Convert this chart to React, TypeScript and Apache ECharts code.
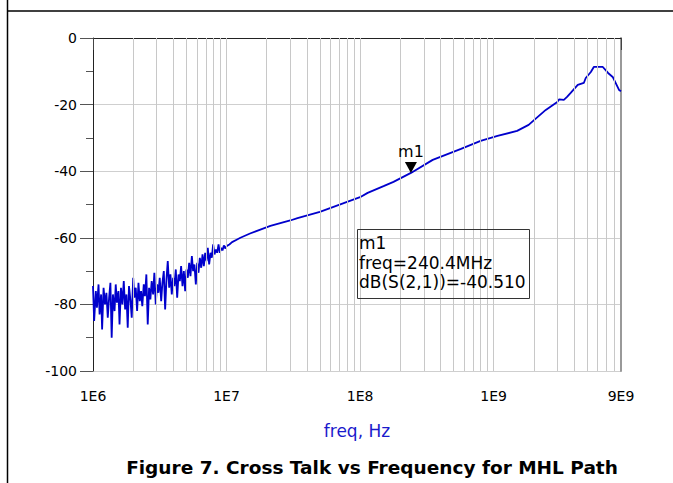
import React, { useEffect, useRef } from "react";
import * as echarts from "echarts";

// Noisy low-frequency part of the sweep (frequency in MHz, value in dB)
const NOISE_FREQ_MHZ = [
  1.0, 1.02, 1.05, 1.07, 1.1, 1.12, 1.15, 1.17, 1.2, 1.23, 1.26, 1.29, 1.32, 1.35, 1.38, 1.41, 1.45, 1.48, 1.51, 1.55,
  1.58, 1.62, 1.66, 1.7, 1.74, 1.78, 1.82, 1.86, 1.91, 1.95, 2.0, 2.04, 2.09, 2.14, 2.19, 2.24, 2.29, 2.34, 2.4, 2.45,
  2.51, 2.57, 2.63, 2.69, 2.75, 2.82, 2.88, 2.95, 3.02, 3.09, 3.16, 3.24, 3.31, 3.39, 3.47, 3.55, 3.63, 3.72, 3.8, 3.89,
  3.98, 4.07, 4.17, 4.27, 4.37, 4.47, 4.57, 4.68, 4.79, 4.9, 5.01, 5.13, 5.25, 5.37, 5.5, 5.62, 5.75, 5.89, 6.03, 6.17,
  6.31, 6.46, 6.61, 6.76, 6.92, 7.08, 7.24, 7.41, 7.59, 7.76, 7.94, 8.13, 8.32, 8.51, 8.71, 8.91, 9.12, 9.33, 9.55, 9.77,
  10.0,
];
const NOISE_DB = [
  -74.5, -85, -76, -81, -74, -83, -77, -87.5, -75, -80, -76.5, -84, -78, -73.5, -90, -77, -82, -74, -79.5, -76,
  -86, -75, -80, -73, -81.5, -77, -87, -74.5, -79, -84, -72, -78, -75, -82, -73.5, -79, -76, -80.5, -74, -77.5,
  -71, -86, -75, -78.5, -73, -77, -70.5, -80, -74, -76.5, -72, -79, -73.5, -70, -81.5, -72.5, -67, -75, -71, -77,
  -72, -74.5, -69.5, -78, -71, -73, -68.5, -74.5, -70, -76, -69.5, -72, -67.5, -71.5, -65.5, -70, -68, -74, -67.5, -70.5,
  -66, -69, -65, -68.5, -64.5, -67, -63, -68, -64.5, -66, -62, -65, -63.5, -64.5, -62, -64.5, -63, -63.8, -62.3, -63.2,
  -62.5,
];

// Smooth part of the sweep (frequency in MHz, value in dB)
const SMOOTH_FREQ_MHZ = [
  10.5, 11, 12, 12.7, 15, 21.3, 30, 34, 50, 80, 100, 114, 150, 178, 240.4, 350, 570, 800, 1070, 1500,
  1830, 2100, 2460, 3000, 3100, 3360, 3550, 3780, 4270, 4740, 4900, 5350, 5630, 6580, 7200, 7800, 8700, 9000,
];
const SMOOTH_DB = [
  -62.0, -61.3, -60.5, -60.0, -58.7, -56.4, -54.8, -54.1, -52.2, -49.2, -47.8, -46.5, -44.5, -43.2, -40.51, -36.6, -33.3, -30.9, -29.4, -27.9,
  -26.1, -24.0, -21.6, -19.2, -18.4, -18.6, -17.7, -16.5, -14.1, -13.5, -12.0, -10.2, -8.7, -8.7, -10.5, -11.7, -15.6, -16.0,
];

const X_MIN_HZ = 1e6;
const X_MAX_HZ = 9e9;
const Y_MIN = -100;
const Y_MAX = 0;
const Y_INTERVAL = 20;

const GRID_MULTIPLIERS = [1, 2, 3, 4, 5, 6, 7, 8, 9];
const GRID_DECADES = [6, 7, 8, 9];

const MARKER_FREQ_HZ = 240.4e6;
const MARKER_DB = -40.51;
const MARKER_NAME = "m1";
const MARKER_BOX_LINES = ["m1", "freq=240.4MHz", "dB(S(2,1))=-40.510"];

const X_AXIS_NAME = "freq, Hz";
const TITLE = "Figure 7. Cross Talk vs Frequency for MHL Path";

const FONT = "DejaVu Sans";

function formatFreq(v: number): string {
  const e = Math.floor(Math.log10(v) + 1e-9);
  const m = Math.round(v / Math.pow(10, e));
  return `${m}E${e}`;
}

export default function App() {
  const ref = useRef<HTMLDivElement>(null);

  useEffect(() => {
    document.body.style.margin = "0";
    document.body.style.overflow = "hidden";
    if (!ref.current) return;
    const chart = echarts.init(ref.current, undefined, { renderer: "svg" });

    const data: [number, number][] = [];
    NOISE_FREQ_MHZ.forEach((f, i) => data.push([f * 1e6, NOISE_DB[i]]));
    SMOOTH_FREQ_MHZ.forEach((f, i) => data.push([f * 1e6, SMOOTH_DB[i]]));

    const vLines: { xAxis: number }[] = [];
    GRID_DECADES.forEach((d) =>
      GRID_MULTIPLIERS.forEach((m) => {
        const v = m * Math.pow(10, d);
        if (v > X_MIN_HZ && v < X_MAX_HZ) vLines.push({ xAxis: v });
      })
    );

    const option: any = {
      animation: false,
      backgroundColor: "#ffffff",
      grid: { left: 93, right: 52, top: 38, bottom: 112, containLabel: false },
      xAxis: [
        {
          type: "log",
          logBase: 10,
          min: X_MIN_HZ,
          max: X_MAX_HZ,
          name: X_AXIS_NAME,
          nameLocation: "middle",
          nameGap: 51,
          nameTextStyle: { color: "#1a1acc", fontSize: 17, fontFamily: FONT },
          axisLine: { show: true, lineStyle: { color: "#222", width: 1 } },
          axisTick: { show: true, length: 12, lineStyle: { color: "#444", width: 1 } },
          axisLabel: {
            show: true,
            margin: 18,
            color: "#000",
            fontSize: 14,
            fontFamily: FONT,
            formatter: (v: number) => formatFreq(v),
            showMaxLabel: true,
            showMinLabel: true,
          },
          splitLine: { show: false },
          minorTick: { show: false },
        },
        {
          type: "log",
          logBase: 10,
          min: X_MIN_HZ,
          max: X_MAX_HZ,
          position: "top",
          axisLine: { show: true, lineStyle: { color: "#222", width: 1 } },
          axisTick: { show: false },
          axisLabel: { show: false },
          splitLine: { show: false },
        },
      ],
      yAxis: [
        {
          type: "value",
          min: Y_MIN,
          max: Y_MAX,
          interval: Y_INTERVAL,
          axisLine: { show: true, lineStyle: { color: "#222", width: 1 } },
          axisTick: { show: true, length: 13, lineStyle: { color: "#555", width: 1 } },
          minorTick: { show: true, splitNumber: 2, length: 7, lineStyle: { color: "#555", width: 1 } },
          axisLabel: { margin: 16, color: "#000", fontSize: 14, fontFamily: FONT },
          splitLine: { show: true, lineStyle: { color: "#cfcfcf", width: 1 } },
        },
        {
          type: "value",
          min: Y_MIN,
          max: Y_MAX,
          position: "right",
          axisLine: { show: true, lineStyle: { color: "#999", width: 2 } },
          axisTick: { show: false },
          axisLabel: { show: false },
          splitLine: { show: false },
        },
      ],
      series: [
        {
          type: "line",
          xAxisIndex: 0,
          yAxisIndex: 0,
          data: [],
          z: 1,
          silent: true,
          markLine: {
            silent: true,
            symbol: ["none", "none"],
            label: { show: false },
            lineStyle: { color: "#c8c8c8", width: 1, type: "solid" },
            data: vLines,
          },
        },
        {
          type: "line",
          xAxisIndex: 0,
          yAxisIndex: 0,
          data,
          z: 3,
          showSymbol: false,
          symbol: "none",
          lineStyle: { color: "#0000cc", width: 1.8 },
          markPoint: {
            silent: true,
            data: [
              {
                coord: [MARKER_FREQ_HZ, MARKER_DB],
                symbol: "path://M0,0L12,0L6,11Z",
                symbolSize: [12, 11],
                symbolOffset: [0, -5.5],
                itemStyle: { color: "#000" },
                label: {
                  show: true,
                  position: "top",
                  distance: 2,
                  formatter: MARKER_NAME,
                  color: "#000",
                  fontSize: 16,
                  fontFamily: FONT,
                },
              },
            ],
          },
        },
      ],
      graphic: [
        {
          type: "line",
          shape: { x1: 7.5, y1: 0, x2: 7.5, y2: 483 },
          style: { stroke: "#000", lineWidth: 1.5 },
          silent: true,
        },
        {
          type: "line",
          shape: { x1: 7, y1: 11, x2: 673, y2: 11 },
          style: { stroke: "#000", lineWidth: 1.5 },
          silent: true,
        },
        {
          type: "rect",
          shape: { x: 357.5, y: 229.5, width: 172, height: 69 },
          style: { fill: "none", stroke: "#333", lineWidth: 1 },
          z: 10,
          silent: true,
        },
        ...MARKER_BOX_LINES.map((t, i) => ({
          type: "text",
          x: 359,
          y: 243 + i * 19.5,
          z: 10,
          silent: true,
          style: {
            text: t,
            fill: "#000",
            fontSize: 17,
            fontFamily: FONT,
            textAlign: "left",
            textVerticalAlign: "middle",
          },
        })),
        {
          type: "text",
          x: 372,
          y: 467,
          silent: true,
          style: {
            text: TITLE,
            fill: "#000",
            fontSize: 18.5,
            fontWeight: "bold",
            fontFamily: FONT,
            textAlign: "center",
            textVerticalAlign: "middle",
          },
        },
      ],
    };

    chart.setOption(option);
    return () => chart.dispose();
  }, []);

  return <div ref={ref} style={{ width: 673, height: 483 }} />;
}
